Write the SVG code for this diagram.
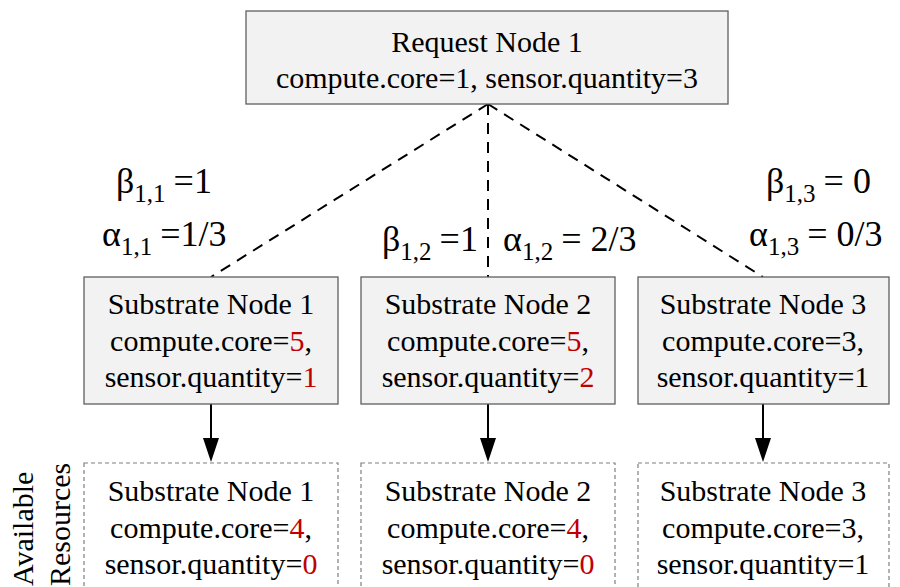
<svg xmlns="http://www.w3.org/2000/svg" width="900" height="587" viewBox="0 0 900 587">
<rect width="900" height="587" fill="#fff"/>

<g id="connectors" stroke="#000" stroke-width="2" fill="none">
<g stroke-dasharray="11,8">
<line x1="488" y1="104" x2="211" y2="277"/>
<line x1="488" y1="104" x2="488" y2="277"/>
<line x1="488" y1="104" x2="763" y2="277"/>
</g>
<line x1="211" y1="404" x2="211" y2="440"/>
<line x1="488" y1="404" x2="488" y2="440"/>
<line x1="763" y1="404" x2="763" y2="440"/>
<g fill="#000" stroke="none">
<polygon points="203,438 219,438 211,462"/>
<polygon points="480,438 496,438 488,462"/>
<polygon points="755,438 771,438 763,462"/>
</g>
</g>

<g id="request1" font-family="Liberation Serif" font-size="30" text-anchor="middle">
<rect x="246" y="11" width="482" height="93" fill="#f2f2f2" stroke="#5f5f5f" stroke-width="1.3"/>
<text x="487" y="52" font-family="Liberation Serif">Request Node 1</text>
<text x="487" y="88" font-family="Liberation Serif">compute.core=1, sensor.quantity=3</text>
</g>

<g id="sub1" font-family="Liberation Serif" font-size="30" text-anchor="middle">
<rect x="84" y="277" width="254" height="127" fill="#f2f2f2" stroke="#5f5f5f" stroke-width="1.3"/>
<text x="211" y="314" font-family="Liberation Serif">Substrate Node 1</text>
<text x="211" y="351" font-family="Liberation Serif">compute.core=<tspan fill="#c00000">5</tspan>,</text>
<text x="211" y="387" font-family="Liberation Serif">sensor.quantity=<tspan fill="#c00000">1</tspan></text>
</g>
<g id="sub2" font-family="Liberation Serif" font-size="30" text-anchor="middle">
<rect x="361" y="277" width="254" height="127" fill="#f2f2f2" stroke="#5f5f5f" stroke-width="1.3"/>
<text x="488" y="314" font-family="Liberation Serif">Substrate Node 2</text>
<text x="488" y="351" font-family="Liberation Serif">compute.core=<tspan fill="#c00000">5</tspan>,</text>
<text x="488" y="387" font-family="Liberation Serif">sensor.quantity=<tspan fill="#c00000">2</tspan></text>
</g>
<g id="sub3" font-family="Liberation Serif" font-size="30" text-anchor="middle">
<rect x="638" y="277" width="251" height="127" fill="#f2f2f2" stroke="#5f5f5f" stroke-width="1.3"/>
<text x="763" y="314" font-family="Liberation Serif">Substrate Node 3</text>
<text x="763" y="351" font-family="Liberation Serif">compute.core=3,</text>
<text x="763" y="387" font-family="Liberation Serif">sensor.quantity=1</text>
</g>

<g id="avail1" font-family="Liberation Serif" font-size="30" text-anchor="middle">
<rect x="84" y="463" width="254" height="140" fill="#fff" stroke="#7f7f7f" stroke-width="1.2" stroke-dasharray="4,3"/>
<text x="211" y="501" font-family="Liberation Serif">Substrate Node 1</text>
<text x="211" y="538" font-family="Liberation Serif">compute.core=<tspan fill="#c00000">4</tspan>,</text>
<text x="211" y="574" font-family="Liberation Serif">sensor.quantity=<tspan fill="#c00000">0</tspan></text>
</g>
<g id="avail2" font-family="Liberation Serif" font-size="30" text-anchor="middle">
<rect x="361" y="463" width="254" height="140" fill="#fff" stroke="#7f7f7f" stroke-width="1.2" stroke-dasharray="4,3"/>
<text x="488" y="501" font-family="Liberation Serif">Substrate Node 2</text>
<text x="488" y="538" font-family="Liberation Serif">compute.core=<tspan fill="#c00000">4</tspan>,</text>
<text x="488" y="574" font-family="Liberation Serif">sensor.quantity=<tspan fill="#c00000">0</tspan></text>
</g>
<g id="avail3" font-family="Liberation Serif" font-size="30" text-anchor="middle">
<rect x="638" y="463" width="251" height="140" fill="#fff" stroke="#7f7f7f" stroke-width="1.2" stroke-dasharray="4,3"/>
<text x="763" y="501" font-family="Liberation Serif">Substrate Node 3</text>
<text x="763" y="538" font-family="Liberation Serif">compute.core=3,</text>
<text x="763" y="574" font-family="Liberation Serif">sensor.quantity=1</text>
</g>

<g id="label-available" font-family="Liberation Serif" font-size="30">
<text x="0" y="0" transform="translate(33,586) rotate(-90)" font-family="Liberation Serif">Available</text>
<text x="0" y="0" transform="translate(70,586) rotate(-90)" font-family="Liberation Serif">Resources</text>
</g>

<g id="weights" font-family="Liberation Serif" font-size="36">
<text x="116" y="193" font-family="Liberation Serif">β<tspan font-size="25" dy="9">1,1</tspan><tspan dy="-9" dx="8">=1</tspan></text>
<text x="102" y="246" font-family="Liberation Serif">α<tspan font-size="25" dy="9">1,1</tspan><tspan dy="-9" dx="8">=1/3</tspan></text>
<text x="382" y="251" font-family="Liberation Serif">β<tspan font-size="25" dy="9">1,2</tspan><tspan dy="-9" dx="8">=1</tspan></text>
<text x="503" y="251" font-family="Liberation Serif">α<tspan font-size="25" dy="9">1,2</tspan><tspan dy="-9" dx="8">= 2/3</tspan></text>
<text x="766" y="193" font-family="Liberation Serif">β<tspan font-size="25" dy="9">1,3</tspan><tspan dy="-9" dx="8">= 0</tspan></text>
<text x="749" y="246" font-family="Liberation Serif">α<tspan font-size="25" dy="9">1,3</tspan><tspan dy="-9" dx="8">= 0/3</tspan></text>
</g>
</svg>
